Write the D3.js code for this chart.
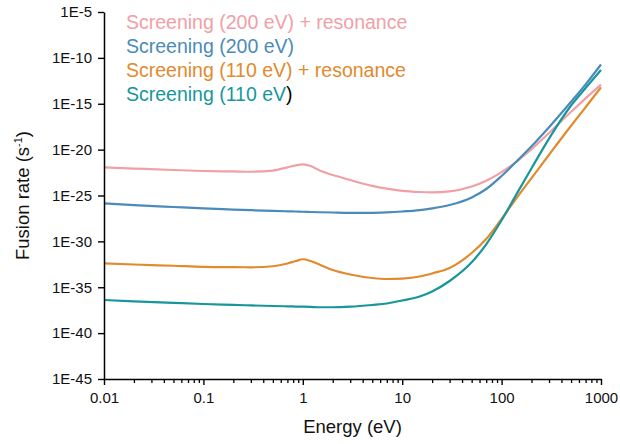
<!DOCTYPE html>
<html>
<head>
<meta charset="utf-8">
<script src="https://cdn.jsdelivr.net/npm/d3@7"></script>
<style>
  body { margin: 0; background: #fff; }
  text { font-family: "Liberation Sans", Arial, Helvetica, sans-serif; }
</style>
</head>
<body>
<svg id="chart" width="620" height="444"></svg>
<script>
// Collision energy grid (eV)
const energies = [0.01, 0.02, 0.05, 0.1, 0.2, 0.3, 0.5, 0.7, 0.85, 1, 1.2, 1.5, 2, 3, 5, 7,
  10, 15, 20, 30, 50, 70, 100, 150, 200, 300, 500, 700, 1000];

// Fusion rates (s^-1) for each model, one value per energy
const rateScr200Res = [1.17e-22, 8.7e-23, 6.0e-23, 4.7e-23, 4.2e-23, 3.9e-23, 5.2e-23, 1.17e-22, 1.95e-22,
  2.5e-22, 1.66e-22, 4.9e-23, 1.7e-23, 4.9e-24, 1.1e-24, 5.5e-25, 3.2e-25, 2.4e-25, 2.2e-25,
  2.8e-25, 9.5e-25, 4.1e-24, 3.5e-23, 8.3e-22, 1.1e-20, 6.5e-19, 1.32e-16, 3.9e-15, 1.2e-13];

const rateScr200 = [1.4e-26, 9.1e-27, 5.6e-27, 3.9e-27, 2.95e-27, 2.5e-27, 2.1e-27, 1.9e-27, 1.8e-27,
  1.7e-27, 1.6e-27, 1.5e-27, 1.4e-27, 1.3e-27, 1.3e-27, 1.45e-27, 1.8e-27, 2.6e-27, 4.0e-27,
  9.1e-27, 6.0e-26, 5.1e-25, 1.35e-23, 9.8e-22, 2.3e-20, 2.8e-18, 1.66e-15, 1.3e-13, 1.9e-11];

const rateScr110Res = [4.1e-33, 3.0e-33, 2.2e-33, 1.7e-33, 1.55e-33, 1.5e-33, 1.95e-33, 3.9e-33, 7.2e-33,
  1.12e-32, 7.2e-33, 2.7e-33, 7.6e-34, 2.45e-34, 1.02e-34, 7.9e-35, 8.9e-35, 1.5e-34, 3.2e-34,
  1.26e-33, 5.4e-32, 1.8e-30, 2.8e-28, 1.26e-25, 7.8e-24, 2.75e-21, 4.0e-18, 4.2e-16, 6.2e-14];

const rateScr110 = [4.1e-37, 2.95e-37, 2.0e-37, 1.5e-37, 1.2e-37, 1.05e-37, 9.1e-38, 8.3e-38, 7.9e-38,
  7.6e-38, 7.1e-38, 6.6e-38, 6.6e-38, 7.6e-38, 1.17e-37, 1.7e-37, 3.6e-37, 9.8e-37, 3.5e-36,
  4.8e-35, 5.2e-33, 4.8e-31, 2.0e-28, 4.4e-25, 9.3e-23, 1.6e-19, 6.4e-16, 5.2e-14, 4.8e-12];

const seriesNames = ["Screening (200 eV) + resonance", "Screening (200 eV)",
  "Screening (110 eV) + resonance", "Screening (110 eV"];
const seriesColors = ["#f0a0a6", "#4a8bbb", "#e18a2e", "#18969c"];
const seriesRates = [rateScr200Res, rateScr200, rateScr110Res, rateScr110];

const xMajorTicks = [0.01, 0.1, 1, 10, 100, 1000];
const xMajorLabels = ["0.01", "0.1", "1", "10", "100", "1000"];
const yTicks = [1e-5, 1e-10, 1e-15, 1e-20, 1e-25, 1e-30, 1e-35, 1e-40, 1e-45];
const yTickLabels = ["1E-5", "1E-10", "1E-15", "1E-20", "1E-25", "1E-30", "1E-35", "1E-40", "1E-45"];

const xTitle = "Energy (eV)";
const yTitle = "Fusion rate (s";

// Layout
const plot = { left: 104, right: 601, top: 12, bottom: 379 };

const svg = d3.select("#chart");

const x = d3.scaleLog().domain([0.01, 1000]).range([plot.left, plot.right]);
const y = d3.scaleLog().domain([1e-45, 1e-5]).range([plot.bottom, plot.top]);

// minor ticks 2..9 within each decade
const xMinorTicks = [];
xMajorTicks.slice(0, -1).forEach(d => {
  for (let k = 2; k <= 9; k++) xMinorTicks.push(d * k);
});

// Curves
const line = d3.line()
  .x(d => x(d[0]))
  .y(d => y(d[1]))
  .curve(d3.curveMonotoneX);

const curves = svg.append("g");
seriesRates.forEach((rates, i) => {
  curves.append("path")
    .datum(energies.map((e, j) => [e, rates[j]]))
    .attr("d", line)
    .attr("fill", "none")
    .attr("stroke", seriesColors[i])
    .attr("stroke-width", 2.2)
    .attr("stroke-linejoin", "round");
});

// X axis: minor ticks, then major ticks with labels
svg.append("g")
  .attr("transform", `translate(0,${plot.bottom})`)
  .call(d3.axisBottom(x).tickValues(xMinorTicks).tickSize(4).tickSizeOuter(0).tickFormat(""))
  .call(g => g.select(".domain").remove())
  .call(g => g.selectAll("line").attr("stroke", "#000").attr("stroke-width", 1.3));

const xAxis = svg.append("g")
  .attr("transform", `translate(0,${plot.bottom})`)
  .call(d3.axisBottom(x).tickValues(xMajorTicks).tickSize(6).tickSizeOuter(0).tickPadding(7)
    .tickFormat((d, i) => xMajorLabels[i]));
xAxis.select(".domain").attr("stroke", "#000").attr("stroke-width", 1.5);
xAxis.selectAll("line").attr("stroke", "#000").attr("stroke-width", 1.4);
xAxis.selectAll("text").attr("font-size", 15).attr("fill", "#111")
  .attr("font-family", "Liberation Sans, Arial, sans-serif");

// Y axis
const yAxis = svg.append("g")
  .attr("transform", `translate(${plot.left},0)`)
  .call(d3.axisLeft(y).tickValues(yTicks).tickSize(6).tickSizeOuter(0).tickPadding(6)
    .tickFormat((d, i) => yTickLabels[i]));
yAxis.select(".domain").attr("stroke", "#000").attr("stroke-width", 1.5);
yAxis.selectAll("line").attr("stroke", "#000").attr("stroke-width", 1.4);
yAxis.selectAll("text").attr("font-size", 15).attr("fill", "#111")
  .attr("font-family", "Liberation Sans, Arial, sans-serif");

// Axis titles
svg.append("text")
  .attr("x", (plot.left + plot.right) / 2)
  .attr("y", 433)
  .attr("text-anchor", "middle")
  .attr("font-size", 18.5)
  .attr("fill", "#111")
  .text(xTitle);

const yt = svg.append("text")
  .attr("transform", `translate(29,${(plot.top + plot.bottom) / 2}) rotate(-90)`)
  .attr("text-anchor", "middle")
  .attr("font-size", 18.5)
  .attr("fill", "#111");
yt.append("tspan").text(yTitle);
yt.append("tspan").attr("font-size", 11).attr("dy", -7).text("-1");
yt.append("tspan").attr("dy", 7).text(")");

// Legend
const legend = svg.append("g");
seriesNames.forEach((name, i) => {
  const t = legend.append("text")
    .attr("x", 126)
    .attr("y", 29 + i * 24)
    .attr("font-size", 19.5)
    .attr("fill", seriesColors[i]);
  t.append("tspan").text(name);
  if (i === 3) t.append("tspan").attr("fill", "#000").text(")");
});
</script>
</body>
</html>
